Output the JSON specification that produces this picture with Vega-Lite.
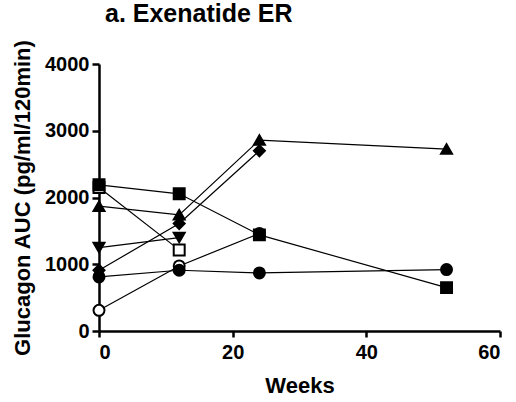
{
  "$schema": "https://vega.github.io/schema/vega-lite/v6.json",
  "width": 401,
  "height": 267,
  "autosize": "none",
  "padding": {"left": 99, "top": 64, "right": 16, "bottom": 71},
  "background": "white",
  "title": {
    "text": "a. Exenatide ER",
    "font": "Liberation Sans",
    "fontWeight": "bold",
    "fontSize": 25,
    "color": "black",
    "anchor": "start",
    "frame": "group",
    "dx": 6,
    "offset": 12
  },
  "config": {
    "view": {"stroke": null},
    "axis": {
      "domainColor": "black",
      "domainWidth": 2.5,
      "tickColor": "black",
      "tickWidth": 2.5,
      "grid": false,
      "labelFont": "Liberation Sans",
      "labelFontWeight": "bold",
      "labelFontSize": 20,
      "labelColor": "black",
      "titleFont": "Liberation Sans",
      "titleFontWeight": "bold",
      "titleColor": "black"
    }
  },
  "data": {
    "values": [
      {"series": "G", "week": 0, "value": 310},
      {"series": "G", "week": 12, "value": 975},
      {"series": "G", "week": 24, "value": 1460},
      {"series": "B", "week": 0, "value": 2150},
      {"series": "B", "week": 12, "value": 1215},
      {"series": "A", "week": 0, "value": 2190},
      {"series": "A", "week": 12, "value": 2055},
      {"series": "A", "week": 24, "value": 1440},
      {"series": "A", "week": 52, "value": 650},
      {"series": "C", "week": 0, "value": 1870},
      {"series": "C", "week": 12, "value": 1740},
      {"series": "C", "week": 24, "value": 2860},
      {"series": "C", "week": 52, "value": 2725},
      {"series": "E", "week": 0, "value": 1250},
      {"series": "E", "week": 12, "value": 1400},
      {"series": "F", "week": 0, "value": 810},
      {"series": "F", "week": 12, "value": 910},
      {"series": "F", "week": 24, "value": 870},
      {"series": "F", "week": 52, "value": 920},
      {"series": "D", "week": 0, "value": 910},
      {"series": "D", "week": 12, "value": 1610},
      {"series": "D", "week": 24, "value": 2700}
    ]
  },
  "encoding": {
    "x": {
      "field": "week",
      "type": "quantitative",
      "scale": {"domain": [0, 60]},
      "axis": {
        "values": [0, 20, 40, 60],
        "format": "d",
        "tickSize": 6,
        "labelPadding": 5,
        "title": "Weeks",
        "titleFontSize": 22,
        "titlePadding": 13
      }
    },
    "y": {
      "field": "value",
      "type": "quantitative",
      "scale": {"domain": [0, 4000]},
      "axis": {
        "values": [0, 1000, 2000, 3000, 4000],
        "format": "d",
        "tickSize": 7,
        "labelPadding": 3,
        "title": "Glucagon AUC (pg/ml/120min)",
        "titleFontSize": 22,
        "titlePadding": 10
      }
    }
  },
  "layer": [
    {
      "mark": {"type": "line", "color": "black", "strokeWidth": 1.2},
      "encoding": {"detail": {"field": "series"}}
    },
    {
      "mark": {"type": "point", "stroke": "black", "strokeWidth": 2, "opacity": 1, "size": 120},
      "encoding": {
        "shape": {
          "field": "series",
          "scale": {
            "domain": ["A", "B", "C", "D", "E", "F", "G"],
            "range": ["square", "square", "triangle-up", "diamond", "triangle-down", "circle", "circle"]
          },
          "legend": null
        },
        "fill": {
          "field": "series",
          "scale": {
            "domain": ["A", "B", "C", "D", "E", "F", "G"],
            "range": ["black", "white", "black", "black", "black", "black", "white"]
          },
          "legend": null
        }
      }
    }
  ]
}
